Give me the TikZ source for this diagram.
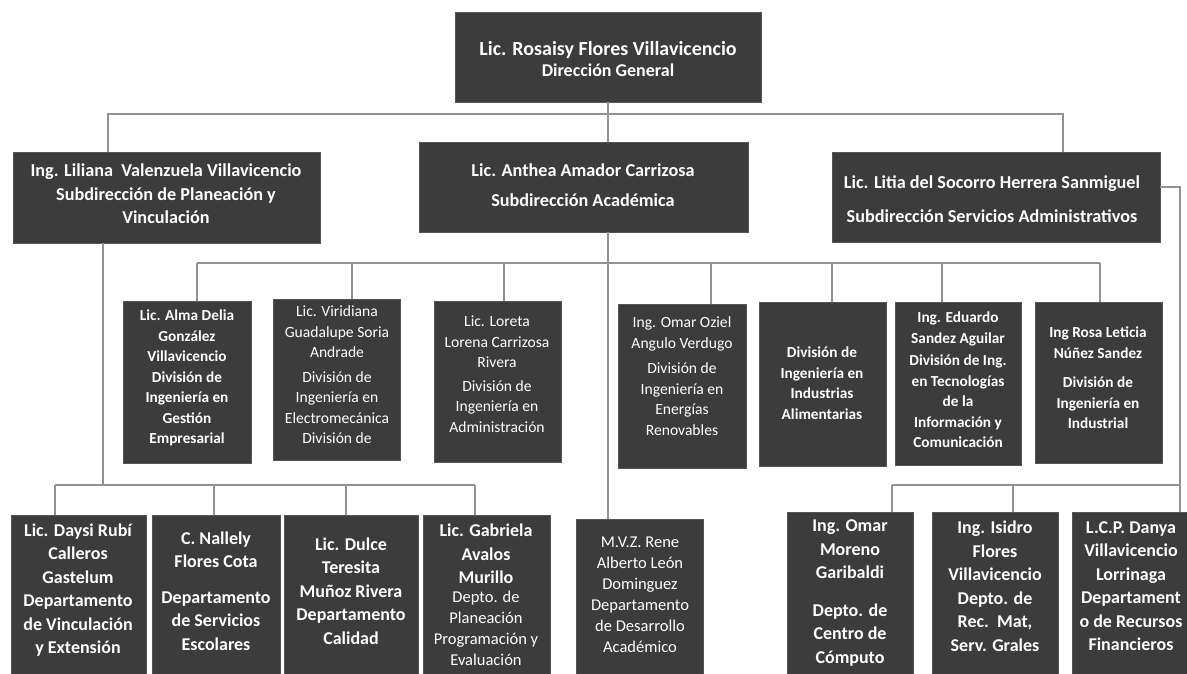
\documentclass[tikz,border=0pt]{standalone}
\usepackage{fontspec}
\setmainfont{Carlito}
\definecolor{boxfill}{HTML}{3C3C3C}
\definecolor{boxedge}{HTML}{555555}
\definecolor{linegray}{HTML}{929292}
\begin{document}
\begin{tikzpicture}[x=1pt,y=-1pt,
  box/.style={draw=boxedge, line width=0.8pt, fill=boxfill, anchor=north west,
    inner sep=0pt, outer sep=0pt},
  conn/.style={draw=linegray, line width=1.3pt},
  txt/.style={text=white, align=center, inner sep=0pt},
  big/.style={font=\bfseries\fontsize{20}{21}\selectfont},
  sub/.style={font=\bfseries\fontsize{18.2}{23.5}\selectfont},
  div/.style={font=\bfseries\fontsize{15.3}{20.5}\selectfont},
  divr/.style={font=\fontsize{15.6}{20.5}\selectfont},
  dep/.style={font=\bfseries\fontsize{18}{23.5}\selectfont},
  depr/.style={font=\fontsize{16.5}{21}\selectfont}]
\clip (0,0) rectangle (1187,673);
\fill[white] (0,0) rectangle (1187,673);

% ---------- boxes ----------
\node[box, minimum width=306, minimum height=90] (top) at (455,12) {};
\node[box, minimum width=307, minimum height=91] (lil) at (13,152) {};
\node[box, minimum width=329, minimum height=90] (ant) at (419,142) {};
\node[box, minimum width=328, minimum height=90] (lit) at (832,152) {};

\node[box, minimum width=128, minimum height=162] (alma) at (123,301) {};
\node[box, minimum width=127, minimum height=161] (viri) at (273,299) {};
\node[box, minimum width=127, minimum height=161] (lore) at (434,301) {};
\node[box, minimum width=128, minimum height=164] (omaroz) at (618,304) {};
\node[box, minimum width=127, minimum height=164] (indus) at (759,302) {};
\node[box, minimum width=126, minimum height=163] (edu) at (895,302) {};
\node[box, minimum width=127, minimum height=161] (rosa) at (1035,302) {};

\node[box, minimum width=135, minimum height=200] (daysi) at (11,515) {};
\node[box, minimum width=128, minimum height=200] (nall) at (152,515) {};
\node[box, minimum width=134, minimum height=200] (dulce) at (284,515) {};
\node[box, minimum width=127, minimum height=200] (gabr) at (423,515) {};
\node[box, minimum width=127, minimum height=200] (mvz) at (576,519) {};
\node[box, minimum width=126, minimum height=200] (omarm) at (787,512) {};
\node[box, minimum width=126, minimum height=200] (isid) at (932,512) {};
\node[box, minimum width=130, minimum height=200] (danya) at (1072,512) {};

% ---------- connectors ----------
\coordinate (b1L) at (108,114);
\coordinate (b1R) at (1063,114);
\draw[conn] (top.south) -- (top.south |- ant.north);
\draw[conn] (b1L |- lil.north) -- (b1L) -- (b1R) -- (b1R |- lit.north);
\draw[conn] (top.south |- ant.south) -- (top.south |- mvz.north);

\coordinate (b2L) at (197,263);
\coordinate (b2R) at (1100,263);
\draw[conn] (b2L) -- (b2R);
\foreach \n/\x in {alma/197, viri/352, lore/504, omaroz/711, indus/832, edu/942, rosa/1100}{
  \coordinate (d-\n) at (\x,263);
  \draw[conn] (d-\n) -- (d-\n |- \n.north);
}

\coordinate (lv) at (103,485);
\draw[conn] (lv |- lil.south) -- (lv);
\coordinate (b3L) at (55,485);
\coordinate (b3R) at (475,485);
\draw[conn] (b3L) -- (b3R);
\foreach \n/\x in {daysi/55, nall/214, dulce/346, gabr/475}{
  \coordinate (e-\n) at (\x,485);
  \draw[conn] (e-\n) -- (e-\n |- \n.north);
}

\coordinate (rc) at (1180,187);
\draw[conn] (rc -| lit.east) -- (rc) -- (rc |- danya.north);
\coordinate (b4L) at (892,485);
\coordinate (b4R) at (1180,485);
\draw[conn] (b4L) -- (b4R);
\foreach \n/\x in {omarm/892, isid/1013}{
  \coordinate (f-\n) at (\x,485);
  \draw[conn] (f-\n) -- (f-\n |- \n.north);
}

% ---------- texts ----------
\node[txt, big] (top-t) at (608,59) {Lic. Rosaisy Flores Villavicencio\\
  {\fontsize{18}{20}\selectfont Dirección General}};
\node[txt, sub] (lil-t) at (166,194) {Ing. Liliana\ \ Valenzuela Villavicencio\\
  Subdirección de Planeación y\\ Vinculación};
\node[txt, sub] (ant-t) at (583,185) {Lic. Anthea Amador Carrizosa\\[7pt]
  Subdirección Académica};
\node[txt, sub] (lit-t) at (992,199) {Lic. Litia del Socorro Herrera Sanmiguel\\[10pt]
  Subdirección Servicios Administrativos};

\node[txt, div] (alma-t) at (187,378) {Lic. Alma Delia\\ González\\ Villavicencio\\
  División de\\ Ingeniería en\\ Gestión\\ Empresarial};
\node[txt, divr] (viri-t) at (337,375) {Lic. Viridiana\\ Guadalupe Soria\\ Andrade\\[4pt]
  División de\\ Ingeniería en\\ Electromecánica\\ División de};
\node[txt, divr] (lore-t) at (497,374) {Lic. Loreta\\ Lorena Carrizosa\\ Rivera\\[3pt]
  División de\\ Ingeniería en\\ Administración};
\node[txt, divr] (omaroz-t) at (682,376) {Ing. Omar Oziel\\ Angulo Verdugo\\[5pt]
  División de\\ Ingeniería en\\ Energías\\ Renovables};
\node[txt, div] (indus-t) at (822,383) {División de\\ Ingeniería en\\ Industrias\\ Alimentarias};
\node[txt, div] (edu-t) at (958,380) {Ing. Eduardo\\ Sandez Aguilar\\[2pt]
  División de Ing.\\ en Tecnologías\\ de la\\ Información y\\ Comunicación};
\node[txt, div] (rosa-t) at (1098,378) {Ing Rosa Leticia\\ Núñez Sandez\\[9pt]
  División de\\ Ingeniería en\\ Industrial};

\node[txt, dep] (daysi-t) at (78,590) {Lic. Daysi Rubí\\ Calleros\\ Gastelum\\
  Departamento\\ de Vinculación\\ y Extensión};
\node[txt, dep] (nall-t) at (216,591) {C. Nallely\\ Flores Cota\\[12pt]
  Departamento\\ de Servicios\\ Escolares};
\node[txt, dep] (dulce-t) at (351,591) {Lic. Dulce\\ Teresita\\ Muñoz Rivera\\
  Departamento\\ Calidad};
\node[txt, dep] (gabr-t) at (486,554) {Lic. Gabriela\\ Avalos\\ Murillo};
\node[txt, depr] (gabr-t2) at (486,628) {Depto. de\\ Planeación\\ Programación y\\ Evaluación};
\node[txt, depr] (mvz-t) at (640,595) {M.V.Z. Rene\\ Alberto León\\ Dominguez\\
  Departamento\\ de Desarrollo\\ Académico};
\node[txt, dep] (omarm-t) at (850,593) {Ing. Omar\\ Moreno\\ Garibaldi\\[14pt]
  Depto. de\\ Centro de\\ Cómputo};
\node[txt, dep] (isid-t) at (995,586) {Ing. Isidro\\ Flores\\ Villavicencio\\
  Depto. de\\ Rec.\ \ Mat,\\ Serv. Grales};
\node[txt, dep] (danya-t) at (1131,586) {L.C.P. Danya\\ Villavicencio\\ Lorrinaga\\
  Departament\\ o de Recursos\\ Financieros};
\end{tikzpicture}
\end{document}
